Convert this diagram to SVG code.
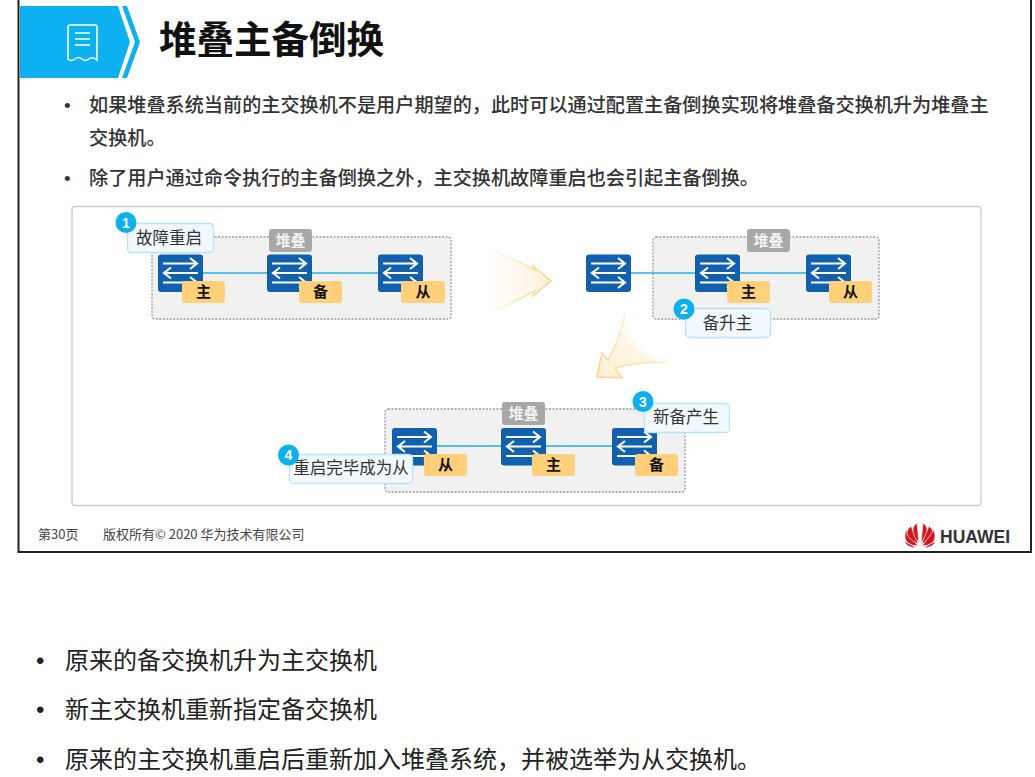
<svg xmlns="http://www.w3.org/2000/svg" width="1035" height="777" viewBox="0 0 1035 777">
<style>
text{font-family:"Noto Sans CJK SC","Noto Sans",sans-serif;fill:#333}
.body{font-size:19.15px;font-weight:500}
.note{font-size:24px;fill:#222}
.bul{font-family:"Liberation Sans",sans-serif}
.foot{font-size:13px;fill:#444}
.group{fill:#f1f1f1;stroke:#999;stroke-width:1.3;stroke-dasharray:2 1.5}
.stack{fill:#a8a8a8}
.stackt{font-size:15px;font-weight:700;fill:#f2f2f2;text-anchor:middle}
.tag{fill:#ffcf7a}
.tagt{font-size:15px;font-weight:700;fill:#111;text-anchor:middle}
.call{fill:#f1f9fe;stroke:#b5e5fa;stroke-width:1.3}
.callt{font-size:16.5px;fill:#333;text-anchor:middle}
.badge{fill:#0cb0ef}
.badget{font-family:"Liberation Sans",sans-serif;font-size:14px;font-weight:700;fill:#fff;text-anchor:middle}
.link{stroke:#1cb1ea;stroke-width:1.5;fill:none}
.ar{stroke:#fff;stroke-width:2.1;fill:none}
</style>
<defs>
<linearGradient id="fa" x1="0" y1="0" x2="1" y2="0"><stop offset="0" stop-color="#ffcf7a" stop-opacity="0"/><stop offset="1" stop-color="#ffcf7a" stop-opacity=".28"/></linearGradient>
<linearGradient id="sa" x1="0" y1="0" x2="1" y2="0"><stop offset="0" stop-color="#ffcf7a" stop-opacity="0"/><stop offset="1" stop-color="#ffcf7a" stop-opacity=".95"/></linearGradient>
<linearGradient id="fb" x1="0.9" y1="0" x2="0.1" y2="1"><stop offset="0" stop-color="#ffcf7a" stop-opacity="0"/><stop offset="1" stop-color="#ffcf7a" stop-opacity=".32"/></linearGradient>
<linearGradient id="sb" x1="0.9" y1="0" x2="0.1" y2="1"><stop offset="0" stop-color="#ffcf7a" stop-opacity="0"/><stop offset="1" stop-color="#ffcf7a" stop-opacity=".95"/></linearGradient>
<g id="sw">
<rect width="45" height="37.500" rx="3" fill="#1060ae"/>
<path class="ar" d="M5 9H39M32 3.500L39 9L32 14.500M40 18.500H6M13 13L6 18.500L13 24M5 28H39M32 22.500L39 28L32 33.500"/>
</g>
</defs>
<rect width="1035" height="777" fill="#fff"/>
<path d="M18.500 0V552H1031V0" fill="none" stroke="#222" stroke-width="2"/>
<path d="M20 6H118L130 42L118 78H20Z" fill="#0db1f2"/>
<path d="M122 6H127L140 42L127 78H122L135 42Z" fill="#0db1f2"/>
<g fill="none" stroke="#fff" stroke-width="1.500"><path d="M68 27Q68 25 70 25H95Q97 25 97 27V60Q93 56 89 59Q85 62 82 59Q78 56 75 59Q71 62 68 59Z"/><path d="M75 33H90M75 39H90M75 45H90"/></g>
<text x="159" y="53" font-size="37.500" font-weight="700" style="fill:#111">堆叠主备倒换</text>
<text x="64" y="112" class="body bul">•</text>
<text x="89" y="112" class="body">如果堆叠系统当前的主交换机不是用户期望的，此时可以通过配置主备倒换实现将堆叠备交换机升为堆叠主</text>
<text x="89" y="145" class="body">交换机。</text>
<text x="64" y="185" class="body bul">•</text>
<text x="89" y="185" class="body">除了用户通过命令执行的主备倒换之外，主交换机故障重启也会引起主备倒换。</text>
<rect x="72" y="206.500" width="909" height="299" rx="3" fill="#fff" stroke="#ccc" stroke-width="1.300"/>

<rect class="group" x="152" y="237" width="299" height="82" rx="3"/>
<rect class="group" x="653" y="237" width="226" height="82" rx="3"/>
<rect class="group" x="385" y="409" width="300" height="83" rx="3"/>

<g id="connectors">
<path class="link" d="M203 273H378"/>
<path class="link" d="M631 273H806"/>
<path class="link" d="M437 446H612"/>
<path d="M488 248Q512 258 535 270L532 265L551 281L532 297L535 291Q512 303 488 314Z" fill="url(#fa)"/>
<path d="M488 248Q512 258 535 270L532 265L551 281L532 297L535 291Q512 303 488 314" fill="none" stroke="url(#sa)" stroke-width="1.500"/>
<path d="M625 313Q620 340 608 360L602 353L597 377L622 378L615 368Q635 362 667 362Q625 350 625 313Z" fill="url(#fb)"/>
<path d="M625 313Q620 340 608 360L602 353L597 377L622 378L615 368Q635 362 667 362" fill="none" stroke="url(#sb)" stroke-width="1.500"/>
</g>

<g id="stack-1-master"><use href="#sw" x="158" y="254.500"/><rect class="tag" x="182" y="281" width="43" height="22" rx="3"/><text class="tagt" x="203.500" y="297">主</text></g>
<g id="stack-1-standby"><use href="#sw" x="267" y="254.500"/><rect class="tag" x="299" y="281" width="43" height="22" rx="3"/><text class="tagt" x="320.500" y="297">备</text></g>
<g id="stack-1-slave"><use href="#sw" x="378" y="254.500"/><rect class="tag" x="401" y="281" width="44" height="22" rx="3"/><text class="tagt" x="423" y="297">从</text></g>
<g id="stack-1-label"><rect class="stack" x="269" y="229" width="43" height="23" rx="3"/><text class="stackt" x="290.500" y="246">堆叠</text></g>
<g id="note-1"><rect class="call" x="127.500" y="223.500" width="86" height="29" rx="4"/><text class="callt" x="169" y="244">故障重启</text><circle class="badge" cx="126" cy="222.500" r="10.500"/><text class="badget" x="126" y="227.500">1</text></g>

<g id="stack-2-old-master"><use href="#sw" x="586" y="254.500"/></g>
<g id="stack-2-master"><use href="#sw" x="695" y="254.500"/><rect class="tag" x="727" y="281" width="43" height="22" rx="3"/><text class="tagt" x="748.500" y="297">主</text></g>
<g id="stack-2-slave"><use href="#sw" x="806" y="254.500"/><rect class="tag" x="829" y="281" width="43" height="22" rx="3"/><text class="tagt" x="850.500" y="297">从</text></g>
<g id="stack-2-label"><rect class="stack" x="747" y="229" width="43" height="23" rx="3"/><text class="stackt" x="768.500" y="246">堆叠</text></g>
<g id="note-2"><rect class="call" x="685.500" y="308.500" width="85" height="29" rx="4"/><text class="callt" x="727.500" y="329">备升主</text><circle class="badge" cx="684" cy="309" r="10.500"/><text class="badget" x="684" y="314">2</text></g>

<g id="stack-3-slave"><use href="#sw" x="392" y="428"/><rect class="tag" x="424" y="454" width="43" height="22" rx="3"/><text class="tagt" x="445.500" y="470">从</text></g>
<g id="stack-3-master"><use href="#sw" x="501" y="428"/><rect class="tag" x="532" y="454" width="43" height="22" rx="3"/><text class="tagt" x="553.500" y="470">主</text></g>
<g id="stack-3-standby"><use href="#sw" x="612" y="428"/><rect class="tag" x="635" y="454" width="43" height="22" rx="3"/><text class="tagt" x="656.500" y="470">备</text></g>
<g id="stack-3-label"><rect class="stack" x="502" y="402" width="43" height="23" rx="3"/><text class="stackt" x="523.500" y="419">堆叠</text></g>
<g id="note-3"><rect class="call" x="644.500" y="403.500" width="85" height="29" rx="4"/><text class="callt" x="686" y="423">新备产生</text><circle class="badge" cx="643" cy="401.500" r="10.500"/><text class="badget" x="643" y="406.500">3</text></g>
<g id="note-4"><rect class="call" x="289.500" y="454.500" width="123" height="29" rx="4"/><text class="callt" x="351" y="474">重启完毕成为从</text><circle class="badge" cx="288.500" cy="455" r="10.500"/><text class="badget" x="288.500" y="460">4</text></g>

<text x="38" y="539" class="foot">第30页</text>
<text x="103" y="539" class="foot">版权所有© 2020 华为技术有限公司</text>
<g id="huawei-logo" fill="#d9141e" stroke="#fff" stroke-width=".7">
<path d="M918 546L906 530Q903 539 908 543Q912 546 918 546Z"/>
<path d="M918.500 544L911 526Q905 531 908 536Q911 541 918.500 544Z"/>
<path d="M919 543L917 523Q912 526 913 532Q914 538 919 543Z"/>
<path d="M921 543L923 523Q928 526 927 532Q926 538 921 543Z"/>
<path d="M921.500 544L929 526Q935 531 932 536Q929 541 921.500 544Z"/>
<path d="M922 546L934 530Q937 539 932 543Q928 546 922 546Z"/>
<path d="M917 548L904 541Q907 548 917 548ZM923 548L936 541Q933 548 923 548Z"/>
</g>
<text x="940" y="542.500" font-size="17.500" font-weight="700" style="fill:#333;font-family:'Liberation Sans',sans-serif">HUAWEI</text>

<text x="36" y="669" class="note bul">•</text>
<text x="65" y="669" class="note">原来的备交换机升为主交换机</text>
<text x="36" y="718" class="note bul">•</text>
<text x="65" y="718" class="note">新主交换机重新指定备交换机</text>
<text x="36" y="768" class="note bul">•</text>
<text x="65" y="768" class="note">原来的主交换机重启后重新加入堆叠系统，并被选举为从交换机。</text>
</svg>
